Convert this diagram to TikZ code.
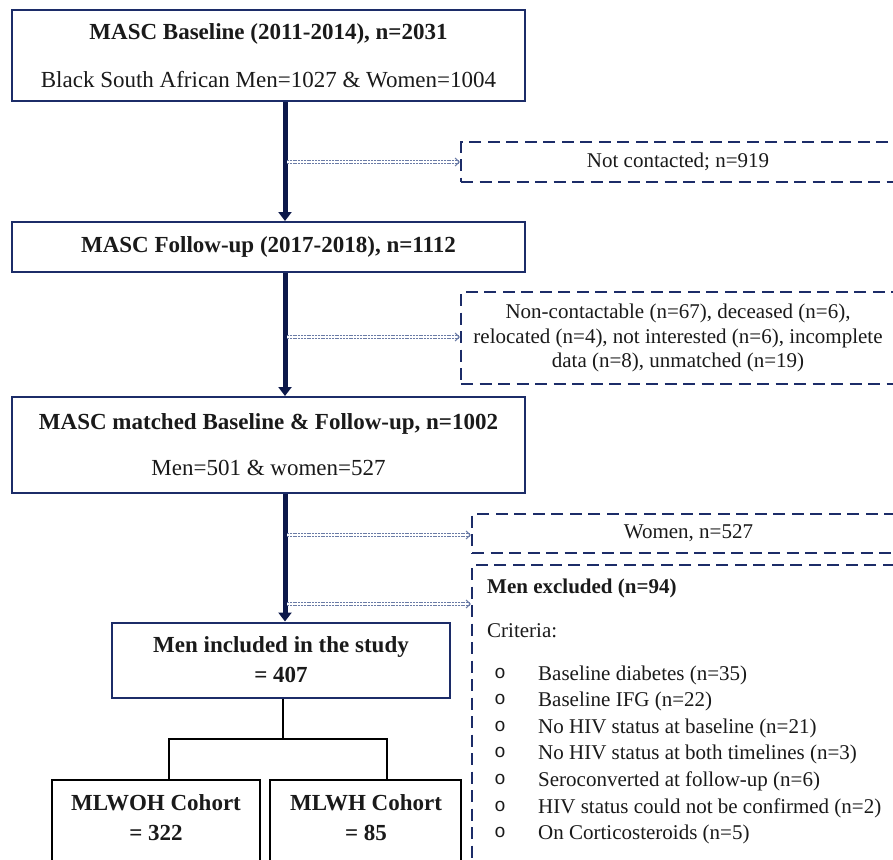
\documentclass[tikz,border=0pt]{standalone}
\usepackage{fontspec}
\setmainfont{Liberation Serif}
\newfontfamily\monof{Liberation Mono}
\usetikzlibrary{arrows.meta}
\definecolor{navy}{HTML}{1C2C68}
\definecolor{darknavy}{HTML}{0C184A}
\definecolor{sidecol}{HTML}{6A7BA6}
\definecolor{ink}{HTML}{1A1A1A}
\begin{document}
\begin{tikzpicture}[x=1pt,y=-1pt,
  mainbox/.style={draw=navy, line width=2pt, rectangle, inner sep=0pt, align=center, text=ink},
  dbox/.style={draw=navy, line width=2.4pt, dash pattern=on 12pt off 6.5pt, rectangle, inner sep=0pt, align=center, text=ink, font=\fontsize{21}{24.5}\selectfont},
  cohort/.style={draw=black, line width=1.8pt, rectangle, inner sep=0pt},
  bigarrow/.style={draw=darknavy, line width=5pt, -{Triangle[length=9pt,width=13pt]}},
  sidearrow/.style={draw=sidecol, line width=0.85pt, double=white, double distance=1.7pt, dash pattern=on 2pt off 0.8pt, -{Straight Barb[length=4pt,width=8pt,line width=1pt]}},
  tree/.style={draw=black, line width=1.8pt},
  lbl/.style={anchor=west, inner sep=0pt, text=ink, font=\fontsize{21}{24}\selectfont},
]
\useasboundingbox (0,0) rectangle (893,859);
\clip (0,0) rectangle (893,859);
\fill[white] (0,0) rectangle (893,859);

% main boxes
\node[mainbox, minimum width=513pt, minimum height=91pt, font=\fontsize{23}{48}\selectfont] (b1) at (268.5,55.5)
  {\textbf{MASC Baseline (2011-2014), n=2031}\\Black South African Men=1027 \& Women=1004};
\node[mainbox, minimum width=513pt, minimum height=50pt, font=\fontsize{23}{27}\selectfont] (b2) at (268.5,247)
  {\textbf{MASC Follow-up (2017-2018), n=1112}};
\node[mainbox, minimum width=513pt, minimum height=96pt, font=\fontsize{23}{46}\selectfont] (b3) at (268.5,445)
  {\textbf{MASC matched Baseline \& Follow-up, n=1002}\\Men=501 \& women=527};
\node[mainbox, minimum width=338pt, minimum height=75pt, font=\fontsize{23}{30}\selectfont] (b4) at (281,660)
  {\textbf{Men included in the study}\\\textbf{= 407}};

% cohort boxes
\node[cohort, minimum width=208pt, minimum height=100pt] (b5) at (156,830) {};
\node[cohort, minimum width=191pt, minimum height=100pt] (b6) at (365.5,830) {};
\node[align=center, inner sep=0pt, text=ink, font=\fontsize{23}{30}\selectfont] (t5) at (156,818) {\textbf{MLWOH Cohort}\\\textbf{= 322}};
\node[align=center, inner sep=0pt, text=ink, font=\fontsize{23}{30}\selectfont] (t6) at (366,818) {\textbf{MLWH Cohort}\\\textbf{= 85}};

% dashed boxes
\node[dbox, minimum width=434pt, minimum height=40pt] (nc) at (678,162) {Not contacted; n=919};
\node[dbox, minimum width=434pt, minimum height=92pt] (ex1) at (678,338)
  {Non-contactable (n=67), deceased (n=6),\\relocated (n=4), not interested (n=6), incomplete\\data (n=8), unmatched (n=19)};
\node[dbox, minimum width=433pt, minimum height=39pt] (wo) at (688.5,533.5) {Women, n=527};
\node[dbox, minimum width=433pt, minimum height=315pt] (mx) at (688.5,722.5) {};

% texts of men excluded
\node[lbl] (mxt) at (487,588) {\textbf{Men excluded (n=94)}};
\node[lbl] (crit) at (487,631) {Criteria:};
\foreach \i/\t in {1/{Baseline diabetes (n=35)},2/{Baseline IFG (n=22)},3/{No HIV status at baseline (n=21)},4/{No HIV status at both timelines (n=3)},5/{Seroconverted at follow-up (n=6)},6/{HIV status could not be confirmed (n=2)},7/{On Corticosteroids (n=5)}}{
  \node[lbl] (it\i) at (538,{675+(\i-1)*26.6}) {\t};
  \node[inner sep=0pt, text=ink, font=\monof\fontsize{19}{20}\selectfont] (bu\i) at (500,{673+(\i-1)*26.6}) {o};
}

% main arrows
\coordinate (ax) at (285,0);
\draw[bigarrow] (b1.south -| ax) -- (b2.north -| ax);
\draw[bigarrow] (b2.south -| ax) -- (b3.north -| ax);
\draw[bigarrow] (b3.south -| ax) -- (b4.north -| ax);

% side arrows
\coordinate (s1) at (287,162);
\coordinate (s2) at (287,337);
\coordinate (s3) at (287,535);
\coordinate (s4) at (287,604);
\draw[sidearrow] (s1) -- (s1 -| nc.west);
\draw[sidearrow] (s2) -- (s2 -| ex1.west);
\draw[sidearrow] (s3) -- (s3 -| wo.west);
\draw[sidearrow] (s4) -- (s4 -| mx.west);

% tree
\coordinate (tj) at (283,739);
\coordinate (tl) at (169,739);
\coordinate (tr) at (387,739);
\draw[tree] (b4.south -| tj) -- (tj);
\draw[tree] (b5.north -| tl) -- (tl) -- (tr) -- (b6.north -| tr);
\end{tikzpicture}
\end{document}
